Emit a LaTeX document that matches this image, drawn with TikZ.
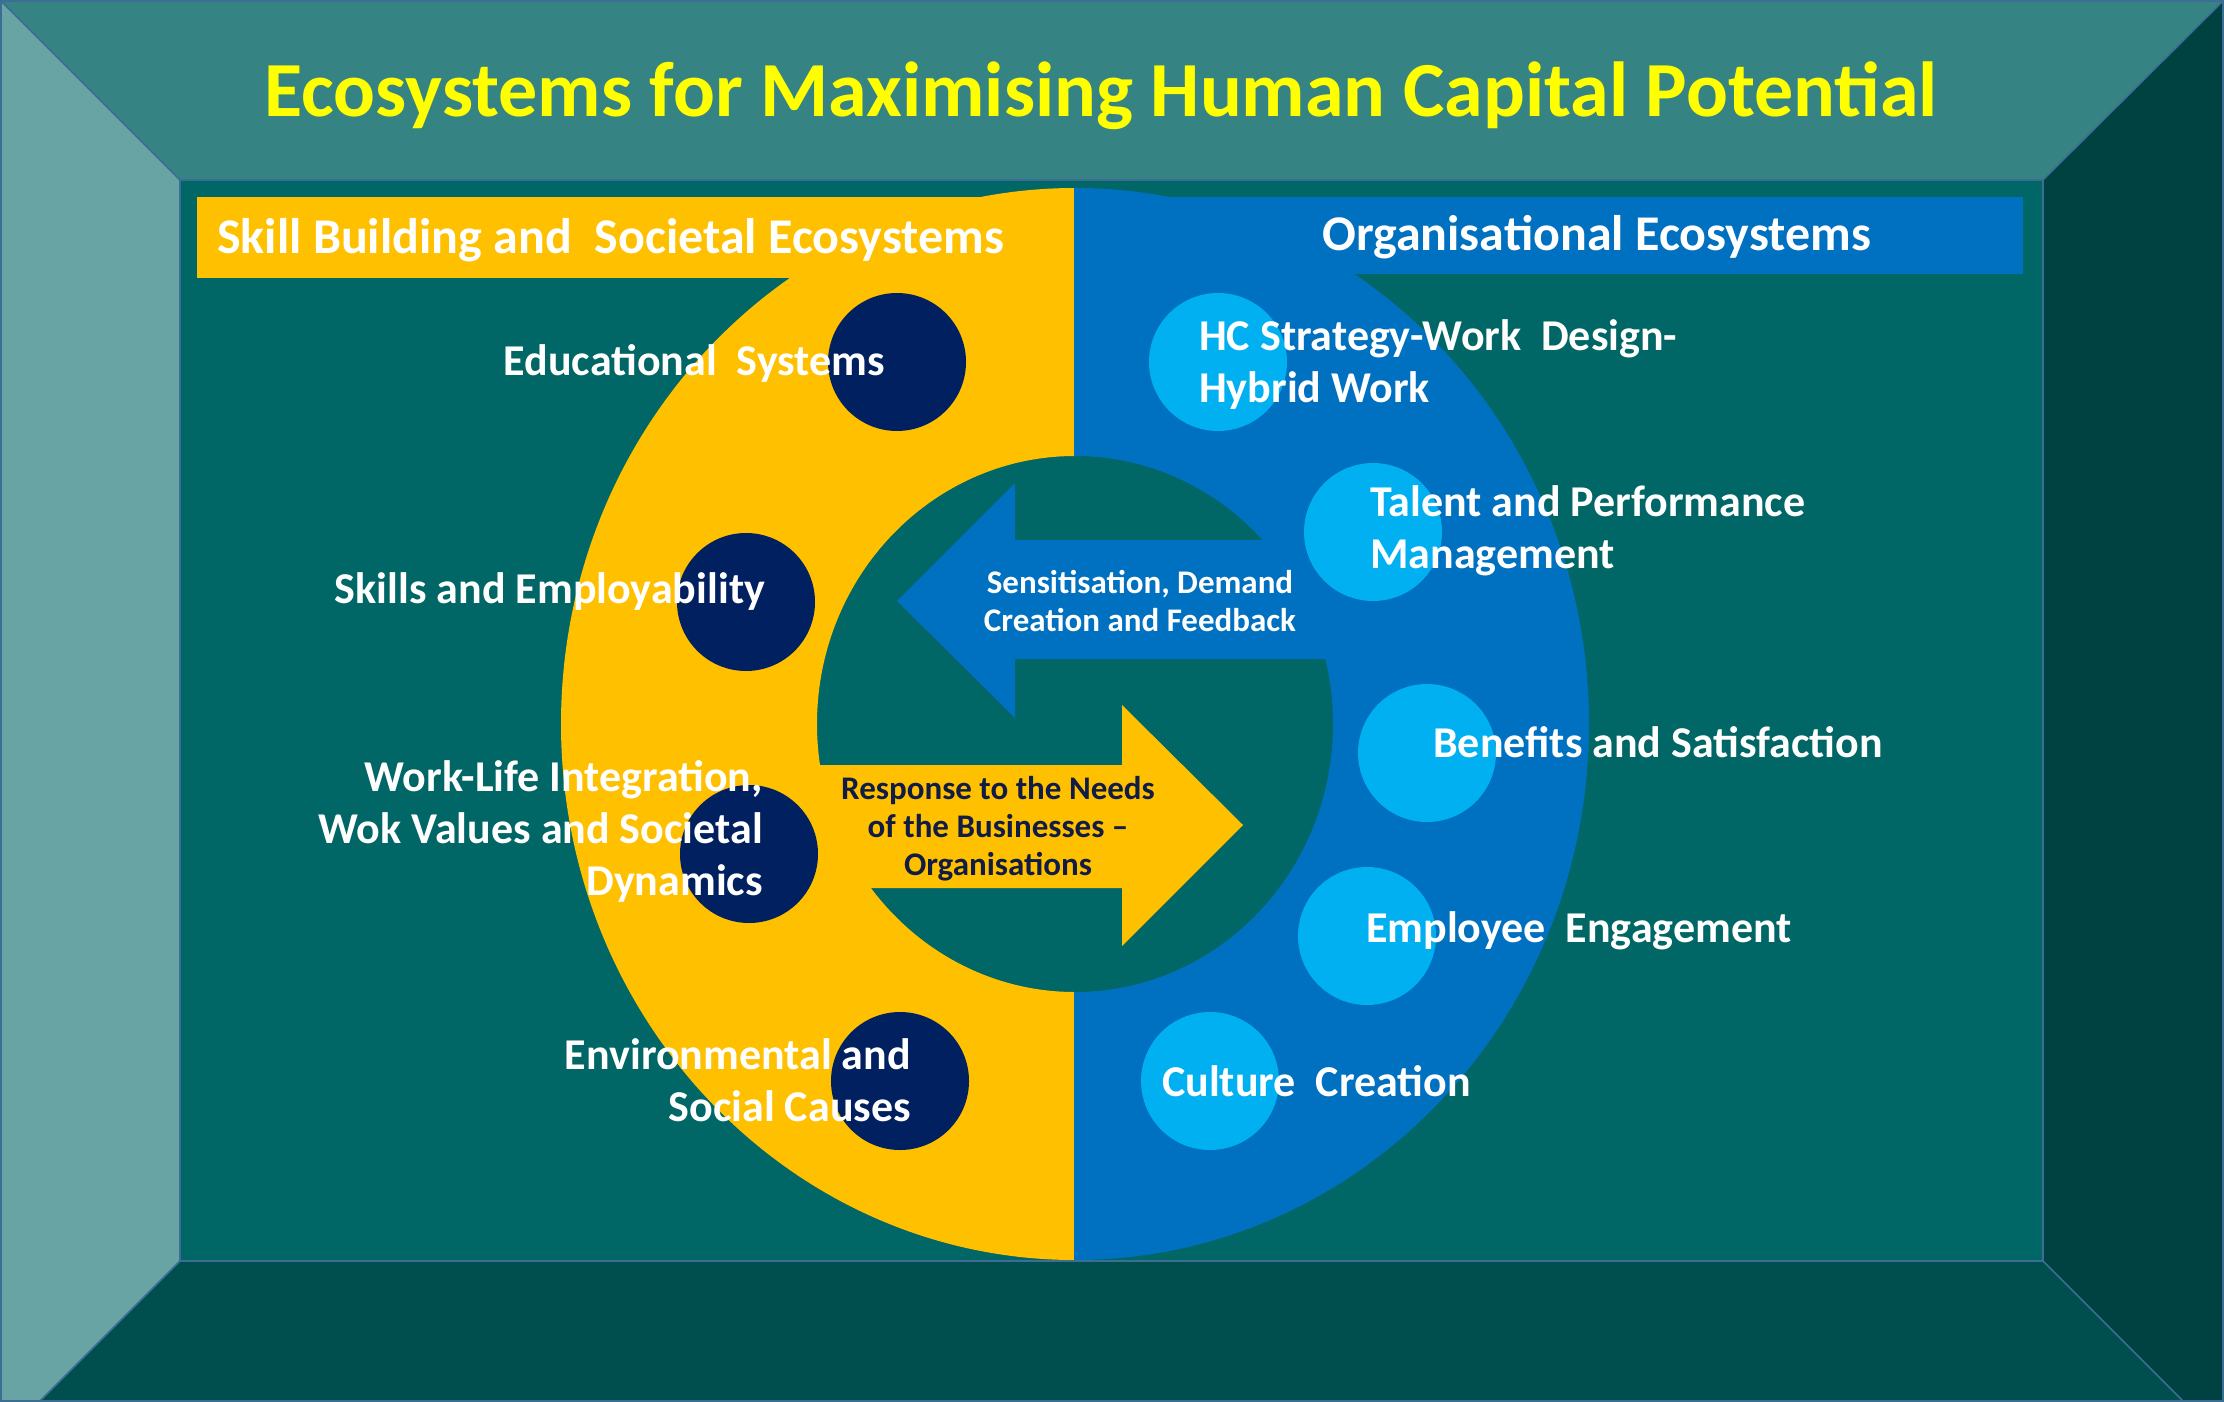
\documentclass[tikz,border=0pt]{standalone}
\usepackage{fontspec}
\setmainfont{Carlito}
\definecolor{topbev}{HTML}{358383}
\definecolor{leftbev}{HTML}{68A4A4}
\definecolor{rightbev}{HTML}{004242}
\definecolor{botbev}{HTML}{004F4F}
\definecolor{innerbg}{HTML}{006666}
\definecolor{seam}{HTML}{3D6C94}
\definecolor{ringyellow}{HTML}{FFC000}
\definecolor{ringblue}{HTML}{0070C0}
\definecolor{navy}{HTML}{002060}
\definecolor{lightblue}{HTML}{00B0F0}
\definecolor{titleyellow}{HTML}{FFFF00}
\definecolor{darktext}{HTML}{101C45}
\tikzset{
  lbl/.style={text=white, font=\fontsize{44}{52}\selectfont\bfseries, inner sep=0pt},
  hdr/.style={text=white, font=\fontsize{50}{56}\selectfont\bfseries, inner sep=0pt},
  arrowtxt/.style={font=\fontsize{33}{38}\selectfont\bfseries, inner sep=0pt, align=center},
  navycirc/.style={circle, fill=navy, minimum size=138pt, inner sep=0pt},
  bluecirc/.style={circle, fill=lightblue, minimum size=138pt, inner sep=0pt},
}
\begin{document}
\begin{tikzpicture}[x=1pt,y=-1pt]
\useasboundingbox (0,0) rectangle (2224,1402);
\begin{scope}
  \clip (0,0) rectangle (2224,1402);
  % bevelled frame
  \fill[topbev] (0,0) -- (2224,0) -- (2043,180) -- (180,180) -- cycle;
  \fill[leftbev] (0,0) -- (180,180) -- (180,1261) -- (0,1441) -- cycle;
  \fill[rightbev] (2224,0) -- (2224,1442) -- (2043,1261) -- (2043,180) -- cycle;
  \fill[botbev] (180,1261) -- (2043,1261) -- (2224,1442) -- (0,1441) -- cycle;
  \draw[seam, line width=1.5pt] (0,0) -- (180,180) (2224,0) -- (2043,180)
       (180,1261) -- (0,1441) (2043,1261) -- (2224,1442);
  % inner panel
  \fill[innerbg] (180,180) rectangle (2043,1261);
  % ring halves
  \begin{scope}
    \clip (180,180) rectangle (1074,1261);
    \fill[ringyellow, even odd rule] (1075,724) ellipse [x radius=514, y radius=536]
                                     (1075,724) ellipse [x radius=258, y radius=268];
  \end{scope}
  \begin{scope}
    \clip (1074,180) rectangle (2043,1261);
    \fill[ringblue, even odd rule] (1075,724) ellipse [x radius=514, y radius=536]
                                   (1075,724) ellipse [x radius=258, y radius=268];
  \end{scope}
  \draw[seam, line width=2.5pt] (180,180) rectangle (2043,1261);
  \draw[seam, line width=4pt] (0,0) rectangle (2224,1402);
\end{scope}
% header bars
\fill[ringyellow] (197,197) rectangle (1074,278);
\fill[ringblue] (1074,197) rectangle (2023,274);
% arrows
\fill[ringblue] (897,601) -- (1015,483) -- (1015,540) -- (1326,540) -- (1326,659)
                -- (1015,659) -- (1015,718) -- cycle;
\fill[ringyellow] (818,765) -- (1122,765) -- (1122,705) -- (1243,825) -- (1122,946)
                -- (1122,888) -- (818,888) -- cycle;
% circles
\node[navycirc] (n1) at (897,362) {};
\node[navycirc] (n2) at (746,602) {};
\node[navycirc] (n3) at (749,854) {};
\node[navycirc] (n4) at (900,1081) {};
\node[bluecirc] (b1) at (1218,362) {};
\node[bluecirc] (b2) at (1373,532) {};
\node[bluecirc] (b3) at (1427,753) {};
\node[bluecirc] (b4) at (1367,936) {};
\node[bluecirc] (b5) at (1210,1081) {};
% title and headers
\node[text=titleyellow, font=\fontsize{78}{86}\selectfont\bfseries, inner sep=0pt, anchor=base]
  (title) at (1101,117) {Ecosystems for Maximising Human Capital Potential};
\node[hdr, anchor=base west] (hleft) at (217,253) {Skill Building and \ Societal Ecosystems};
\node[hdr, anchor=base west] (hright) at (1322,250) {Organisational Ecosystems};
% arrow texts
\node[arrowtxt, text=white] (tsens) at (1140,601) {Sensitisation, Demand\\Creation and Feedback};
\node[arrowtxt, text=darktext] (tresp) at (998,829) {Response to the Needs\\of the Businesses --\\Organisations};
% left labels
\node[lbl, anchor=base east] (l1) at (885,375) {Educational \ Systems};
\node[lbl, anchor=base east] (l2) at (765,603) {Skills and Employability};
\node[lbl, anchor=east, align=right] (l3) at (763,831) {Work-Life Integration,\\Wok Values and Societal\\Dynamics};
\node[lbl, anchor=east, align=right] (l4) at (911,1080) {Environmental and\\Social Causes};
% right labels
\node[lbl, anchor=west, align=left] (r1) at (1199,365) {HC Strategy-Work \ Design-\\Hybrid Work};
\node[lbl, anchor=west, align=left] (r2) at (1370,531) {Talent and Performance\\Management};
\node[lbl, anchor=base west] (r3) at (1433,757) {Benefits and Satisfaction};
\node[lbl, anchor=base west] (r4) at (1366,942) {Employee \ Engagement};
\node[lbl, anchor=base west] (r5) at (1162,1096) {Culture \ Creation};
\end{tikzpicture}
\end{document}
